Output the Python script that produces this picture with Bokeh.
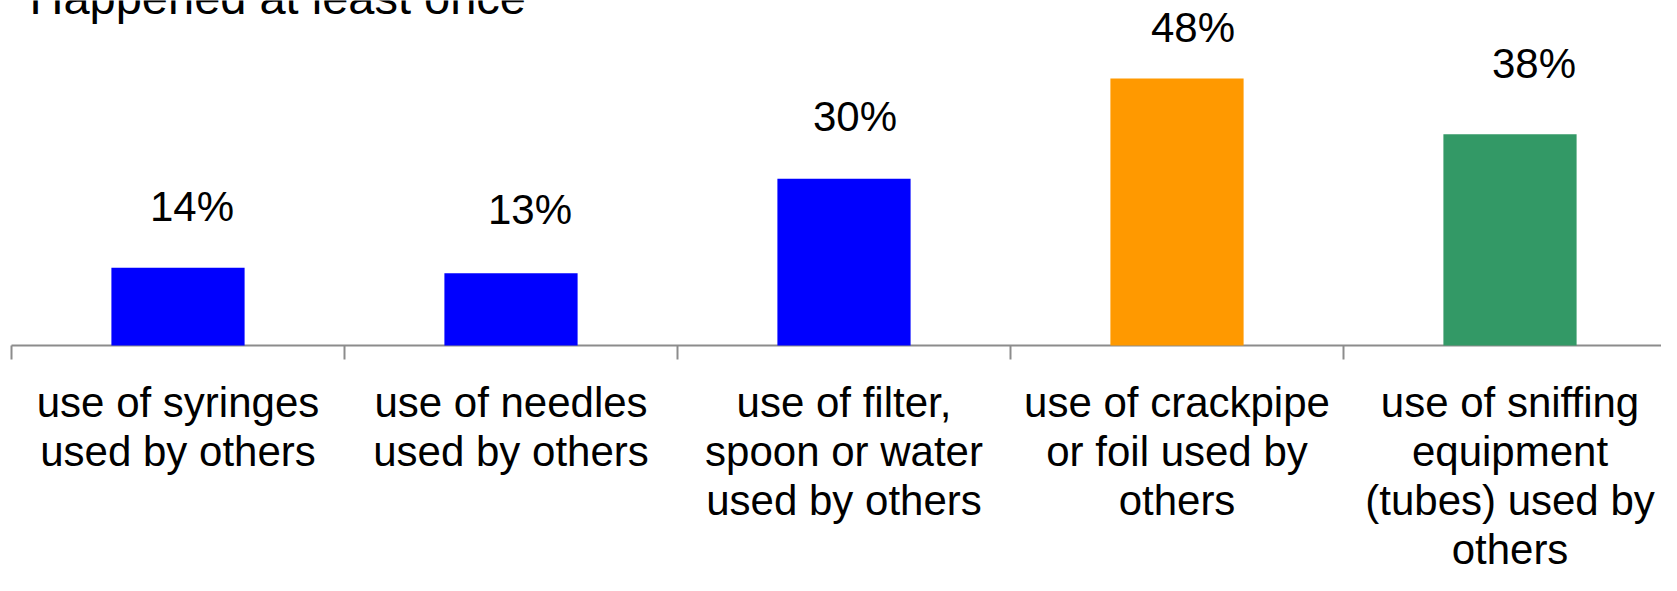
import numpy as np
from bokeh.plotting import figure
from bokeh.models import ColumnDataSource, LabelSet, Label, Range1d
from bokeh.core.properties import value
from bokeh.embed import file_html
from bokeh.resources import INLINE

# ---- data ----
title_text = "Happened at least once"
categories = [
    "use of syringes\nused by others",
    "use of needles\nused by others",
    "use of filter,\nspoon or water\nused by others",
    "use of crackpipe\nor foil used by\nothers",
    "use of sniffing\nequipment\n(tubes) used by\nothers",
]
values = [14, 13, 30, 48, 38]
value_labels = ["14%", "13%", "30%", "48%", "38%"]

# ---- style / layout ----
bar_colors = ["#0000FF", "#0000FF", "#0000FF", "#FF9900", "#339966"]
label_dx = [14, 19, 11, 16, 24]      # px shift of value labels (as placed in the original)
label_dy = [47, 49, 48, 37, 56]      # px lift of value-label baselines above bar tops
FONT = "Liberation Sans"
AXIS_COLOR = "#8c8c8c"
W, H = 1661, 575
AXIS_Y = 345          # pixel row of the category axis
AXIS_X0 = 11          # pixel column where the axis starts
CAT_W = 333.0         # pixels per category
PX = 5.56             # pixels per percentage point
TICK = 14             # tick length, px
FIRST_LINE = 57       # first label line position below axis, px
GAP = 49              # line spacing, px

n = len(categories)
centers = np.arange(n) + 0.5
bounds = np.arange(n + 1)

p = figure(width=W, height=H, output_backend="svg", toolbar_location=None,
           x_range=Range1d(-AXIS_X0 / CAT_W, (W - AXIS_X0) / CAT_W),
           y_range=Range1d(-(H - AXIS_Y) / PX, AXIS_Y / PX),
           x_axis_type=None, y_axis_type=None,
           min_border=0, min_border_left=0, min_border_right=0,
           min_border_top=0, min_border_bottom=0)
p.outline_line_color = None
p.grid.visible = False
p.background_fill_color = "white"
p.border_fill_color = "white"

# category axis: baseline and boundary ticks
p.segment(x0=[0], x1=[n], y0=[0], y1=[0], line_color=AXIS_COLOR, line_width=2)
p.segment(x0=bounds, x1=bounds, y0=np.zeros(n + 1), y1=np.full(n + 1, -TICK / PX),
          line_color=AXIS_COLOR, line_width=2)

src = ColumnDataSource(dict(x=centers, top=values, color=bar_colors,
                            label=value_labels, dx=label_dx, dy=label_dy))
p.vbar(x="x", top="top", bottom=0, width=0.4, fill_color="color",
       line_color=None, source=src)

p.add_layout(LabelSet(x="x", y="top", text="label", source=src,
                      x_offset="dx", y_offset="dy",
                      text_align="center", text_baseline="alphabetic",
                      text_font=value(FONT), text_font_size="42px",
                      text_color="black"))

# category labels, one row per text line
cx, cy, ct = [], [], []
for i, lab in enumerate(categories):
    for j, line in enumerate(lab.split("\n")):
        cx.append(centers[i])
        cy.append(-(FIRST_LINE + j * GAP) / PX)
        ct.append(line)
p.text(x=cx, y=cy, text=ct, text_align="center", text_baseline="alphabetic",
       text_font=value(FONT), text_font_size="42px", text_color="black")

p.add_layout(Label(x=29, y=H - 13.5 + 17, x_units="screen", y_units="screen",
                   text=title_text, text_align="left",
                   text_baseline="alphabetic",
                   text_font=FONT, text_font_size="47px",
                   text_color="black"))

open("out.html", "w").write(file_html(p, INLINE))
